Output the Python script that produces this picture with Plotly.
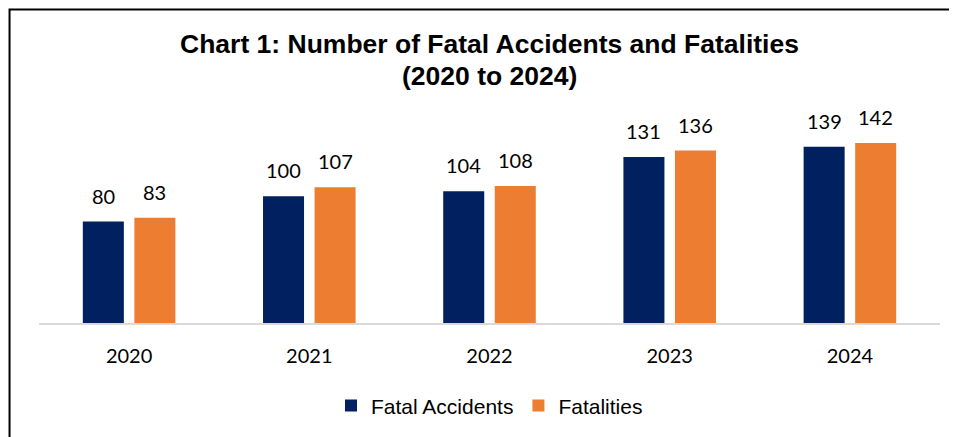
import plotly.graph_objects as go

years = ["2020", "2021", "2022", "2023", "2024"]
fatal_accidents = [80, 100, 104, 131, 139]
fatalities = [83, 107, 108, 136, 142]

title_lines = ["Chart 1: Number of Fatal Accidents and Fatalities", "(2020 to 2024)"]

navy = "#002060"
orange = "#ED7D31"
label_font = dict(family="Lato", size=20, color="#000000")
title_font = dict(family="Liberation Sans", size=26.5, color="#000000")

fig = go.Figure()
fig.add_trace(go.Bar(x=years, y=fatal_accidents, name="Fatal Accidents",
                     marker=dict(color=navy, line=dict(width=0))))
fig.add_trace(go.Bar(x=years, y=fatalities, name="Fatalities",
                     marker=dict(color=orange, line=dict(width=0))))

# data labels above each bar (x given as category index)
for i in range(len(years)):
    for val, shift in ((fatal_accidents[i], -25.75), (fatalities[i], 25.75)):
        fig.add_annotation(x=i, y=val, text=str(val), showarrow=False,
                           xshift=shift, yshift=12, yanchor="bottom",
                           font=label_font)

# two-line title, tighter spacing than the built-in title
for txt, ypos in zip(title_lines, [1.3084, 1.1589]):
    fig.add_annotation(x=0.5, y=ypos, xref="paper", yref="paper",
                       text="<b>" + txt + "</b>", showarrow=False,
                       xanchor="center", yanchor="middle", font=title_font)

# chart frame
fig.add_shape(type="rect", xref="paper", yref="paper",
              x0=-0.0327, x1=1.03, y0=-0.6, y1=1.472,
              line=dict(color="#000000", width=2), fillcolor="rgba(0,0,0,0)")

# page body has an 8px margin, so the figure is 8px smaller and the margins shifted
fig.update_layout(
    width=949,
    height=429,
    margin=dict(l=31, r=17, t=102, b=113),
    paper_bgcolor="white",
    plot_bgcolor="white",
    barmode="group",
    bargap=0.428,
    bargroupgap=0.204,
    xaxis=dict(
        type="category", range=[-0.5, len(years) - 0.5],
        showline=True, linecolor="#D9D9D9", linewidth=2,
        showgrid=False, ticks="", ticklabelstandoff=14,
        tickfont=dict(family="Lato", size=20, color="#000000"),
    ),
    yaxis=dict(visible=False, range=[0, 168], showgrid=False),
    showlegend=True,
    legend=dict(
        orientation="h", x=0.5, xanchor="center", y=-0.383, yanchor="middle",
        font=dict(family="Liberation Sans", size=21, color="#000000"),
        itemclick=False,
    ),
)

fig.write_html("out.html")
